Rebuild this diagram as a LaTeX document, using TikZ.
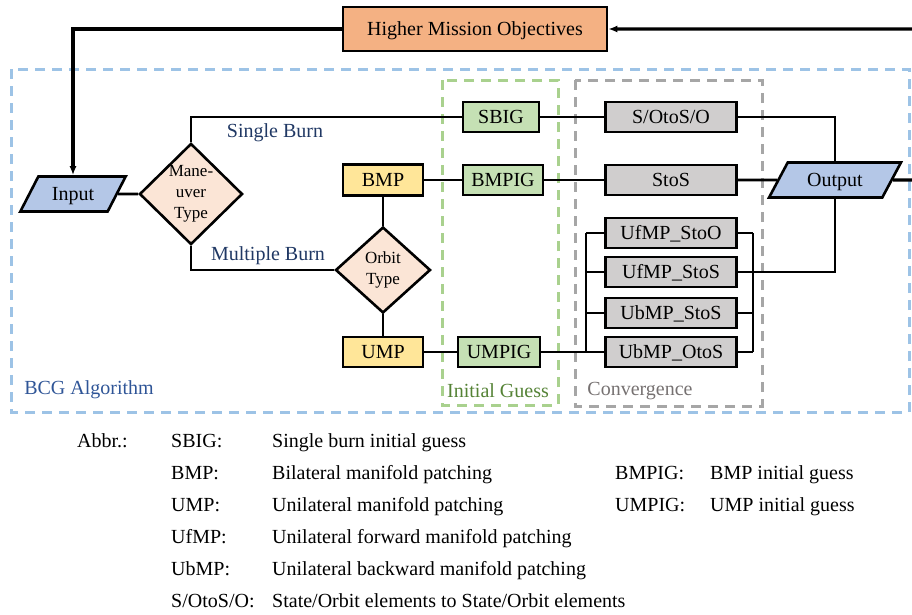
\documentclass[tikz,border=0pt]{standalone}
\usepackage{fontspec}
\setmainfont{Liberation Serif}
\usepackage{xcolor}
\usetikzlibrary{shapes.geometric,arrows.meta,positioning,calc}
\definecolor{missionorange}{RGB}{244,177,131}
\definecolor{ioblue}{RGB}{180,199,231}
\definecolor{choicepeach}{RGB}{251,229,214}
\definecolor{patchyellow}{RGB}{255,230,153}
\definecolor{guessgreen}{RGB}{197,224,180}
\definecolor{convgray}{RGB}{208,206,206}
\definecolor{framecblue}{RGB}{157,195,230}
\definecolor{framegreen}{RGB}{169,209,142}
\definecolor{framegray}{RGB}{166,166,166}
\definecolor{labelnavy}{RGB}{32,56,100}
\definecolor{labelblue}{RGB}{47,85,151}
\definecolor{labelgreen}{RGB}{84,130,53}
\definecolor{labelgray}{RGB}{118,113,113}

\begin{document}
\begin{tikzpicture}[x=1pt, y=-1pt,
		font=\fontsize{20}{24}\selectfont,
		block/.style={draw, line width=2.6pt, rectangle, inner sep=0pt, text height=16pt, text depth=3pt, minimum height=30pt},
		iobox/.style={draw, line width=2.6pt, trapezium, trapezium left angle=60, trapezium right angle=120, trapezium stretches=true, fill=ioblue, inner sep=0pt, text height=16pt, text depth=3pt, minimum height=35pt},
		choice/.style={draw, line width=2.6pt, diamond, fill=choicepeach, inner sep=0pt, align=center, font=\fontsize{17}{21}\selectfont},
		link/.style={line width=2.6pt},
		feedback/.style={line width=3.2pt},
		region/.style={line width=3pt, dash pattern=on 10pt off 7pt},
		abbr/.style={anchor=base west, inner sep=0pt}]
				\useasboundingbox (0,0) rectangle (912,614);
				\clip (0,0) rectangle (912,614);
				
				% Draw dashed regions
				\draw[region, framecblue] (11,69) rectangle (909,412);
				\draw[region, framegreen] (442,80) rectangle (558,405);
				\draw[region, framegray] (575,80) rectangle (762,406);
				\node[labelblue] (bcglabel) at (89,390) {BCG Algorithm};
				\node[labelgreen] (guesslabel) at (498,391) {Initial Guess};
				\node[labelgray] (convlabel) at (640,391) {Convergence};
				
				% Draw top level and input/output
				\node[block, fill=missionorange, minimum width=264pt, minimum height=44pt] (mission) at (475,29) {Higher Mission Objectives};
				\node[iobox, minimum width=106pt] (input) at (73,194) {Input};
				\node[iobox, minimum width=132pt] (output) at (835,180) {Output};
				
				% Draw decisions
				\node[choice, minimum width=103pt, minimum height=99pt] (maneuver) at (191,194) {Mane-\\uver\\Type};
				\node[choice, minimum width=95pt, minimum height=86pt] (orbit) at (383,270) {Orbit\\Type};
				
				% Draw patching methods
				\node[block, fill=patchyellow, minimum width=80pt, minimum height=31pt] (bmp) at (383,180) {BMP};
				\node[block, fill=patchyellow, minimum width=80pt] (ump) at (383,352) {UMP};
				
				% Draw initial guesses
				\node[block, fill=guessgreen, minimum width=76pt] (sbig) at (501,117) {SBIG};
				\node[block, fill=guessgreen, minimum width=80pt] (bmpig) at (503,180) {BMPIG};
				\node[block, fill=guessgreen, minimum width=82pt] (umpig) at (499,352) {UMPIG};
				
				% Draw convergence cases
				\node[block, fill=convgray, minimum width=131pt] (sotoso) at (671,117) {S/OtoS/O};
				\node[block, fill=convgray, minimum width=131pt] (stos) at (671,180) {StoS};
				\node[block, fill=convgray, minimum width=131pt] (ufmpstoo) at (671,233) {UfMP\_StoO};
				\node[block, fill=convgray, minimum width=131pt] (ufmpstos) at (671,272) {UfMP\_StoS};
				\node[block, fill=convgray, minimum width=131pt] (ubmpstos) at (671,313) {UbMP\_StoS};
				\node[block, fill=convgray, minimum width=131pt] (ubmpotos) at (671,352) {UbMP\_OtoS};
				
				% Draw connections
				\draw[link] (input) -- (maneuver);
				\draw[link] (maneuver.north) |- (sbig.west);
				\draw[link] (maneuver.south) |- (orbit.west);
				\node[labelnavy] (single) at (275,133) {Single Burn};
				\node[labelnavy] (multiple) at (268,256) {Multiple Burn};
				\draw[link] (bmp) -- (orbit);
				\draw[link] (orbit) -- (ump);
				\draw[link] (bmp) -- (bmpig);
				\draw[link] (ump) -- (umpig);
				\draw[link] (sbig) -- (sotoso);
				\draw[link] (bmpig) -- (stos);
				\draw[link] (umpig) -- (ubmpotos);
				\draw[link] (stos) -- (output);
				\draw[link] (sotoso.east) -| (output.north);
				\draw[link] (ufmpstos.east) -| (output.south);
				
				% Draw buses for the unilateral cases
				\coordinate (lbus) at (586,0);
				\coordinate (rbus) at (753,0);
				\foreach \case in {ufmpstoo,ufmpstos,ubmpstos,ubmpotos}
				{
					\draw[link] (\case.west) -- (\case.west -| lbus);
					\draw[link] (\case.east) -- (\case.east -| rbus);
				}
				\draw[link] (ufmpstoo.west -| lbus) -- (ubmpotos.west -| lbus);
				\draw[link] (ufmpstoo.east -| rbus) -- (ubmpotos.east -| rbus);
				
				% Draw feedback loop
				\coordinate (loopr) at (940,180);
				\draw[feedback, -{Latex[length=9pt,width=7pt]}] (output.east) -- (loopr) |- (mission.east);
				\draw[feedback, -{Latex[length=9pt,width=7pt]}] (mission.west) -| (input.north);
				
				% Abbreviations
				\node[abbr] (abbrhead) at (77,447) {Abbr.:};
				\node[abbr] (k1) at (171,447) {SBIG:};
				\node[abbr] (v1) at (272,447) {Single burn initial guess};
				\node[abbr] (k2) at (171,479) {BMP:};
				\node[abbr] (v2) at (272,479) {Bilateral manifold patching};
				\node[abbr] (k3) at (615,479) {BMPIG:};
				\node[abbr] (v3) at (710,479) {BMP initial guess};
				\node[abbr] (k4) at (171,511) {UMP:};
				\node[abbr] (v4) at (272,511) {Unilateral manifold patching};
				\node[abbr] (k5) at (615,511) {UMPIG:};
				\node[abbr] (v5) at (710,511) {UMP initial guess};
				\node[abbr] (k6) at (171,543) {UfMP:};
				\node[abbr] (v6) at (272,543) {Unilateral forward manifold patching};
				\node[abbr] (k7) at (171,575) {UbMP:};
				\node[abbr] (v7) at (272,575) {Unilateral backward manifold patching};
				\node[abbr] (k8) at (171,607) {S/OtoS/O:};
				\node[abbr] (v8) at (272,607) {State/Orbit elements to State/Orbit elements};
\end{tikzpicture}
\end{document}
